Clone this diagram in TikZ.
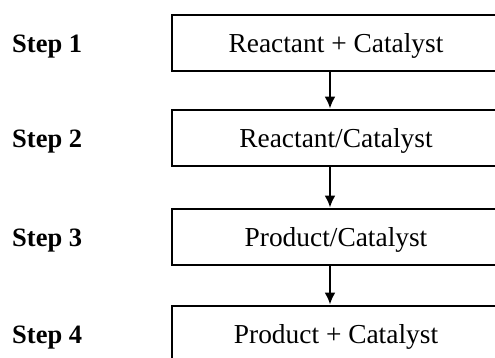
\documentclass[tikz,border=0pt]{standalone}
\usepackage{fontspec}
\setmainfont{Liberation Serif}
\usetikzlibrary{arrows.meta}

\begin{document}
\begin{tikzpicture}[x=1pt,y=1pt,
  stage/.style={draw,line width=2.8pt,minimum width=328pt,minimum height=56pt,inner sep=0pt,
    text height=19pt,text depth=0pt,font=\fontsize{27.4}{30}\selectfont},
  steplabel/.style={anchor=base west,inner sep=0pt,font=\fontsize{26.5}{30}\selectfont\bfseries},
  flow/.style={line width=2.5pt,-{Latex[length=12pt,width=11pt]}}]

\clip (0,0) rectangle (495,358);

\node[stage] (b1) at (336,315) {Reactant + Catalyst};
\node[stage] (b2) at (336,220) {Reactant/Catalyst};
\node[stage] (b3) at (336,121) {Product/Catalyst};
\node[stage] (b4) at (336,24) {Product + Catalyst};

\node[steplabel] (s1) at (12,305) {Step 1};
\node[steplabel] (s2) at (12,210) {Step 2};
\node[steplabel] (s3) at (12,111) {Step 3};
\node[steplabel] (s4) at (12,14) {Step 4};

\draw[flow] ([xshift=-6pt]b1.south) -- ([xshift=-6pt]b2.north);
\draw[flow] ([xshift=-6pt]b2.south) -- ([xshift=-6pt]b3.north);
\draw[flow] ([xshift=-6pt]b3.south) -- ([xshift=-6pt]b4.north);

\end{tikzpicture}
\end{document}
